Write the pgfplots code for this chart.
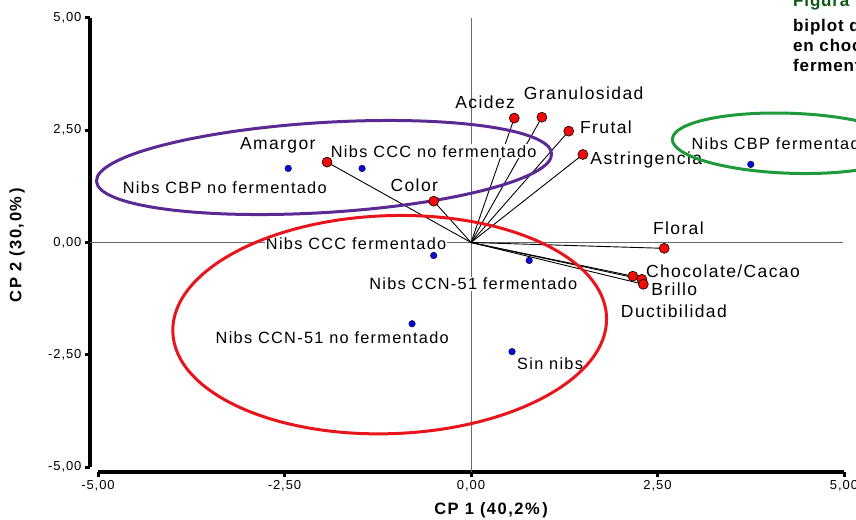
\documentclass[border=0pt]{standalone}
\usepackage{fontspec}
\setmainfont{Liberation Sans}
\newfontfamily\obsfont{Liberation Sans}[LetterSpace=8]
\newfontfamily\varfont{Liberation Sans}[LetterSpace=8]
\newfontfamily\tickfont{Liberation Sans}[LetterSpace=7]
\newfontfamily\labfont{Liberation Sans}[LetterSpace=9]
\newfontfamily\capfont{Liberation Sans}[LetterSpace=5]
\usepackage{pgfplots}
\usepackage{pgfplotstable}
\pgfplotsset{compat=1.18}
\definecolor{ptblue}{HTML}{0808E0}
\definecolor{ptred}{HTML}{F50A0A}
\definecolor{elpurple}{HTML}{5A2A92}
\definecolor{elred}{HTML}{E8161C}
\definecolor{elgreen}{HTML}{1E9A3C}
\definecolor{figgreen}{HTML}{0E5A14}
\definecolor{zeroline}{HTML}{6A6A6A}

% variables (red points, vectors)
\pgfplotstableread{
x y
-1.93 1.79
-0.50 0.92
0.58 2.77
0.95 2.79
1.31 2.48
1.50 1.96
2.59 -0.13
2.17 -0.75
2.29 -0.82
2.31 -0.93
}\vars
% observations (blue points)
\pgfplotstableread{
x y
-2.45 1.65
-1.46 1.65
-0.50 -0.29
0.78 -0.40
-0.79 -1.81
0.55 -2.43
3.75 1.74
}\obs

\begin{document}
\begin{tikzpicture}[x=1pt,y=1pt,
  obslab/.style={font=\obsfont\fontsize{16.3}{19}\selectfont, fill=white, inner sep=1pt},
  varlab/.style={font=\varfont\fontsize{17.5}{20}\selectfont, inner sep=1pt}]
\begin{axis}[
  at={(98pt,52pt)}, anchor=south west,
  width=746pt, height=449pt, scale only axis,
  xmin=-5, xmax=5, ymin=-5, ymax=5,
  enlargelimits=false, clip=false,
  axis x line*=bottom, axis y line*=left,
  axis line style={-, line width=4pt, black},
  x axis line style={yshift=-5pt},
  y axis line style={xshift=-8pt},
  xtick={-5,-2.5,0,2.5,5}, ytick={-5,-2.5,0,2.5,5},
  tick align=outside, major tick length=5pt,
  xtick style={line width=3pt, black, yshift=-5pt},
  ytick style={line width=3pt, black, xshift=-8pt},
  xticklabel style={yshift=-5pt, font=\tickfont\fontsize{13}{15}\selectfont},
  yticklabel style={xshift=-8pt, font=\tickfont\fontsize{13}{15}\selectfont},
  /pgf/number format/fixed, /pgf/number format/fixed zerofill,
  /pgf/number format/precision=2, /pgf/number format/use comma,
  /pgf/number format/assume math mode=true,
  xlabel={CP 1 (40,2\%\,)}, ylabel={CP 2 (30,0\%\,)},
  xlabel style={at={(axis description cs:0.527,-0.0958)}, anchor=center, font=\labfont\bfseries\fontsize{16.5}{19}\selectfont},
  ylabel style={at={(axis description cs:-0.1086,0.494)}, anchor=center, font=\labfont\bfseries\fontsize{16.5}{19}\selectfont},
]
% zero lines
\draw[zeroline, line width=1pt] (axis cs:-5.107,0) -- (axis cs:4.99,0);
\draw[zeroline, line width=1pt] (axis cs:0,5) -- (axis cs:0,-5.11);

% vectors
\addplot[black, line width=0.9pt, quiver={u=\thisrow{x}, v=\thisrow{y}}, -] table[x expr=0, y expr=0] {\vars};

% labels of observations
\node[obslab] at (axis cs:-3.30,1.21) {Nibs CBP no fermentado};
\node[obslab] at (axis cs:-0.50,2.03) {Nibs CCC no fermentado};
\node[obslab] at (axis cs:-1.54,-0.02) {Nibs CCC fermentado};
\node[obslab] at (axis cs:0.03,-0.92) {Nibs CCN-51 fermentado};
\node[obslab] at (axis cs:-1.86,-2.12) {Nibs CCN-51 no fermentado};
\node[obslab] at (axis cs:1.06,-2.70) {Sin nibs};
\node[obslab, anchor=west] at (axis cs:2.94,2.21) {Nibs CBP fermentado};

% labels of variables
\node[varlab] at (axis cs:-2.59,2.17) {Amargor};
\node[varlab] at (axis cs:-0.76,1.27) {Color};
\node[varlab] at (axis cs:0.19,3.13) {Acidez};
\node[varlab] at (axis cs:1.51,3.33) {Granulosidad};
\node[varlab] at (axis cs:1.81,2.57) {Frutal};
\node[varlab] at (axis cs:2.35,1.83) {Astringencia};
\node[varlab] at (axis cs:2.78,0.31) {Floral};
\node[varlab, anchor=west] at (axis cs:2.33,-0.65) {Chocolate/Cacao};
\node[varlab, anchor=west] at (axis cs:2.40,-1.05) {Brillo};
\node[varlab] at (axis cs:2.72,-1.52) {Ductibilidad};

% ellipses
\draw[elpurple, line width=3pt, rotate around={3.5:(axis cs:-1.97,1.67)}] (axis cs:-1.97,1.67) ellipse [x radius=228pt, y radius=45pt];
\draw[elred, line width=3pt, rotate around={2:(axis cs:-1.09,-1.83)}] (axis cs:-1.09,-1.83) ellipse [x radius=217pt, y radius=109pt];
\draw[elgreen, line width=3pt, rotate around={-2:(axis cs:4.28,2.21)}] (axis cs:4.28,2.21) ellipse [x radius=118pt, y radius=30pt];

% points
\addplot[only marks, mark=*, mark size=5pt, mark options={fill=ptred, draw=black, line width=0.6pt}] table {\vars};
\addplot[only marks, mark=*, mark size=3.3pt, mark options={fill=ptblue, draw=black, line width=0.4pt}] table {\obs};
\end{axis}

% caption fragment (cut by the page edge)
\begin{scope}[every node/.style={anchor=base west, inner sep=0pt, font=\capfont\bfseries\fontsize{17}{20}\selectfont}]
\node[text=figgreen] at (793,512) {Figura};
\node at (793,487) {biplot de};
\node at (793,467) {en chocolate};
\node at (793,447) {fermentado};
\end{scope}

\pgfresetboundingbox
\path[use as bounding box] (0,0) rectangle (856,519);
\end{tikzpicture}
\end{document}
